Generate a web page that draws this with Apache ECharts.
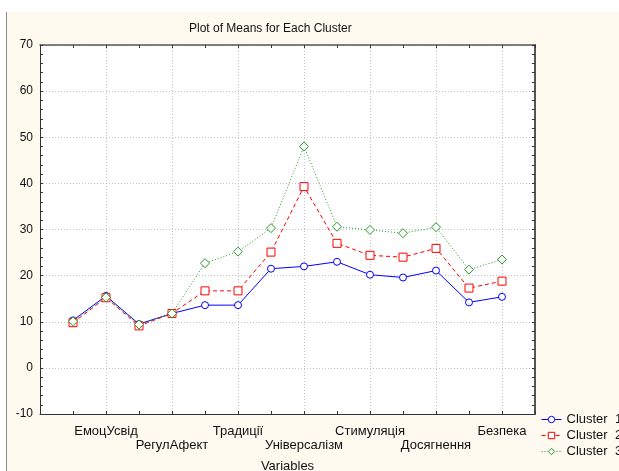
<!DOCTYPE html>
<html>
<head>
<meta charset="utf-8">
<script src="https://cdn.jsdelivr.net/npm/echarts@6/dist/echarts.min.js"></script>
<style>html,body{margin:0;padding:0;background:#fff;}#c{width:619px;height:471px;}</style>
</head>
<body>
<div id="c"></div>
<script>
// Categories (only every second name is printed in the original chart)
var categories = ['', 'ЕмоцУсвід', '', 'РегулАфект', '', 'Традиції', '', 'Універсалізм', '', 'Стимуляція', '', 'Досягнення', '', 'Безпека'];
var seriesNames = ['Cluster  1', 'Cluster  2', 'Cluster  3'];
var cluster1 = [10.3, 15.6, 9.5, 11.8, 13.6, 13.6, 21.5, 22.0, 23.0, 20.2, 19.6, 21.1, 14.2, 15.4];
var cluster2 = [9.8, 15.2, 9.1, 11.8, 16.7, 16.7, 25.1, 39.3, 27.0, 24.4, 24.0, 25.9, 17.3, 18.8];
var cluster3 = [10.1, 15.3, 9.4, 11.8, 22.7, 25.2, 30.3, 48.0, 30.6, 29.9, 29.2, 30.5, 21.3, 23.5];
var yTicks = [-10, 0, 10, 20, 30, 40, 50, 60, 70];

function toPairs(arr) { return arr.map(function (v, i) { return [i + 1, v]; }); }

var chart = echarts.init(document.getElementById('c'), null, {renderer: 'canvas'});
var FONT = 'Liberation Sans, Arial, sans-serif';
var axisLineStyle = {color: '#333', width: 1};
var splitStyle = {color: '#c4c4c4', type: [1, 2], width: 1};

var option = {
  backgroundColor: '#ffffff',
  animation: false,
  graphic: [
    {type: 'rect', z: -10, shape: {x: 6, y: 12, width: 613, height: 459}, style: {fill: '#fffaf0'}, silent: true},
    {type: 'line', z: -9, shape: {x1: 6.5, y1: 12, x2: 6.5, y2: 471}, style: {stroke: '#8c8c8c', lineWidth: 1}, silent: true},
    {type: 'text', left: 189, top: 23, style: {text: 'Plot of Means for Each Cluster', font: '12px ' + FONT, fill: '#111'}}
  ],
  grid: {left: 40, top: 45, width: 495, height: 369, show: true, backgroundColor: '#ffffff', borderWidth: 0, outerBoundsMode: 'none', containLabel: false},
  legend: {
    orient: 'vertical', left: 541, top: 413, itemGap: 3, itemWidth: 20, itemHeight: 8, padding: 0,
    textStyle: {fontFamily: FONT, fontSize: 13, color: '#111'},
    itemStyle: {borderWidth: 1},
    lineStyle: {width: 1},
    data: seriesNames
  },
  xAxis: [{
    type: 'value', min: 0, max: 15, interval: 2, position: 'bottom',
    name: 'Variables', nameLocation: 'middle', nameGap: 46,
    nameTextStyle: {fontFamily: FONT, fontSize: 13, color: '#111'},
    axisLine: {show: true, onZero: false, lineStyle: axisLineStyle},
    axisTick: {show: true, inside: true, length: 3, lineStyle: {color: '#333'}},
    minorTick: {show: true, splitNumber: 2, length: 3, lineStyle: {color: '#333'}},
    splitLine: {show: true, lineStyle: splitStyle},
    axisLabel: {
      margin: 10, fontFamily: FONT, fontSize: 13, color: '#111', lineHeight: 14,
      formatter: function (v) {
        var idx = Math.round(v) - 1;
        if (idx < 0 || idx >= categories.length) return '';
        var name = categories[idx];
        if (!name) return '';
        return (Math.round(v) % 4 === 0) ? '\n' + name : name;
      }
    }
  }, {
    type: 'value', min: 0, max: 15, interval: 2, position: 'top',
    axisLine: {show: true, onZero: false, lineStyle: {color: '#555', width: 1.5}},
    axisTick: {show: true, inside: true, length: 3, lineStyle: {color: '#333'}},
    minorTick: {show: true, splitNumber: 2, length: 3, lineStyle: {color: '#333'}},
    splitLine: {show: false}, axisLabel: {show: false}
  }],
  yAxis: [{
    type: 'value', min: yTicks[0], max: yTicks[yTicks.length - 1], interval: 10, position: 'left',
    axisLine: {show: true, onZero: false, lineStyle: axisLineStyle},
    axisTick: {show: true, inside: true, length: 3, lineStyle: {color: '#333'}},
    minorTick: {show: true, splitNumber: 5, length: 3, lineStyle: {color: '#333'}},
    splitLine: {show: true, lineStyle: splitStyle},
    axisLabel: {margin: 7, fontFamily: FONT, fontSize: 12, color: '#111'}
  }, {
    type: 'value', min: yTicks[0], max: yTicks[yTicks.length - 1], interval: 10, position: 'right',
    axisLine: {show: true, onZero: false, lineStyle: {color: '#555', width: 2}},
    axisTick: {show: true, inside: true, length: 3, lineStyle: {color: '#333'}},
    minorTick: {show: true, splitNumber: 5, length: 3, lineStyle: {color: '#333'}},
    splitLine: {show: false}, axisLabel: {show: false}
  }],
  series: [
    {
      name: seriesNames[0], type: 'line', data: toPairs(cluster1),
      symbol: 'circle', symbolSize: 7,
      lineStyle: {color: '#0000ff', width: 1, type: 'solid'},
      itemStyle: {color: '#ffffff', borderColor: '#0000ff', borderWidth: 1}
    },
    {
      name: seriesNames[1], type: 'line', data: toPairs(cluster2),
      symbol: 'rect', symbolSize: 8,
      lineStyle: {color: '#ff0000', width: 1, type: [4, 3]},
      itemStyle: {color: '#ffffff', borderColor: '#ff0000', borderWidth: 1}
    },
    {
      name: seriesNames[2], type: 'line', data: toPairs(cluster3),
      symbol: 'diamond', symbolSize: 9,
      lineStyle: {color: '#239b23', width: 1, type: [1, 2]},
      itemStyle: {color: '#ffffff', borderColor: '#239b23', borderWidth: 1}
    }
  ]
};
chart.setOption(option);
</script>
</body>
</html>
